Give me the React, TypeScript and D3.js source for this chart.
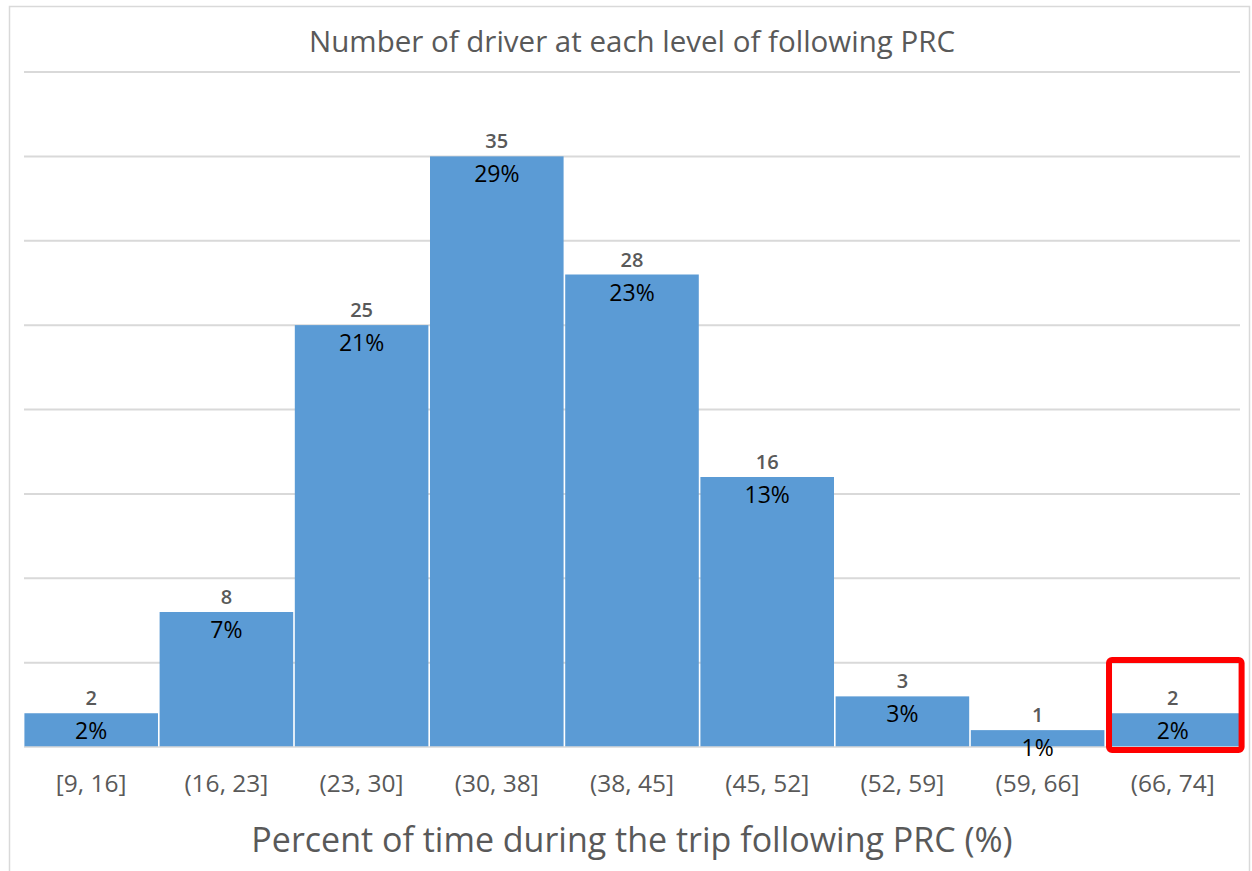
import React from "react";
import * as d3 from "d3";

const categories = ["[9, 16]", "(16, 23]", "(23, 30]", "(30, 38]", "(38, 45]", "(45, 52]", "(52, 59]", "(59, 66]", "(66, 74]"];
const counts = [2, 8, 25, 35, 28, 16, 3, 1, 2];
const percents = ["2%", "7%", "21%", "29%", "23%", "13%", "3%", "1%", "2%"];
const yTicks = [0, 5, 10, 15, 20, 25, 30, 35, 40];
const highlighted = ["(66, 74]"];

const W = 1252;
const H = 871;
const FONT = "'Open Sans', 'Liberation Sans', sans-serif";

export default function App() {
  const x = d3.scaleBand<string>().domain(categories).range([24, 1240]).paddingInner(0.012).paddingOuter(0.003);
  const y = d3.scaleLinear().domain([0, 40]).range([747, 72]);

  return (
    <svg width={W} height={H} style={{ position: "absolute", left: 0, top: 0, display: "block" }}>
      <rect x={0} y={0} width={W} height={H} fill="#fff" />
      <rect x={9.5} y={6.5} width={1240} height={870} fill="#fff" stroke="#d9d9d9" strokeWidth={1.5} />
      <text x={632} y={42} dy="0.35em" textAnchor="middle" fontFamily={FONT} fontSize={29.5} fill="#595959">
        Number of driver at each level of following PRC
      </text>
      {yTicks.slice(1).map((t) => (
        <line key={t} x1={24} x2={1240} y1={y(t)} y2={y(t)} stroke="#d9d9d9" strokeWidth={2} />
      ))}
      {categories.map((c, i) => (
        <rect key={c} x={x(c)} y={y(counts[i])} width={x.bandwidth()} height={y(0) - y(counts[i])} fill="#5b9bd5" />
      ))}
      <line x1={24} x2={1240} y1={y(0)} y2={y(0)} stroke="#d9d9d9" strokeWidth={1.5} />
      {categories.map((c, i) => {
        const cx = (x(c) as number) + x.bandwidth() / 2;
        return (
          <g key={"l" + c}>
            <text x={cx} y={y(counts[i]) - 15} dy="0.35em" textAnchor="middle" fontFamily={FONT} fontSize={20} fontWeight={600} fill="#595959">
              {counts[i]}
            </text>
            <text x={cx} y={y(counts[i]) + 18} dy="0.35em" textAnchor="middle" fontFamily={FONT} fontSize={23} fill="#000">
              {percents[i]}
            </text>
            <text x={cx} y={783} dy="0.35em" textAnchor="middle" fontFamily={FONT} fontSize={24.5} fill="#595959">
              {c}
            </text>
          </g>
        );
      })}
      {highlighted.map((c) => (
        <rect key={"h" + c} x={(x(c) as number) + 3} y={660} width={x.bandwidth() - 1} height={90} rx={3} fill="none" stroke="#ff0000" strokeWidth={6} />
      ))}
      <text x={632} y={840} dy="0.35em" textAnchor="middle" fontFamily={FONT} fontSize={34} fill="#595959">
        Percent of time during the trip following PRC (%)
      </text>
    </svg>
  );
}
